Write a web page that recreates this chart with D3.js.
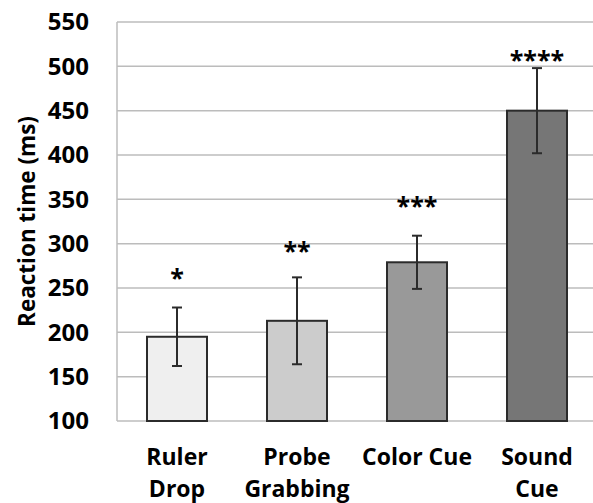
<!DOCTYPE html>
<html>
<head>
<meta charset="utf-8">
<script src="https://cdn.jsdelivr.net/npm/d3@7"></script>
<style>
  body { margin: 0; background: #fff; }
  svg { display: block; font-family: "Open Sans", sans-serif; font-weight: 700; }
</style>
</head>
<body>
<svg id="chart" width="593" height="503"></svg>
<script>
// data
const categories = [["Ruler", "Drop"], ["Probe", "Grabbing"], ["Color Cue"], ["Sound", "Cue"]];
const means = [195, 213, 279, 450];
const errors = [33, 49, 30, 48];
const stars = ["*", "**", "***", "****"];
const starAt = [272, 303, 353, 518];
const fills = ["#efefef", "#cccccc", "#999999", "#767676"];
const yTicks = [100, 150, 200, 250, 300, 350, 400, 450, 500, 550];

const WIDTH = 593, HEIGHT = 503;
const plotLeft = 117, plotRight = 597, plotTop = 22, plotBottom = 421;

const svg = d3.select("#chart");

const x = d3.scaleBand()
  .domain(d3.range(categories.length))
  .range([plotLeft, plotRight])
  .paddingInner(0.5)
  .paddingOuter(0.25);

const y = d3.scaleLinear().domain([100, 550]).range([plotBottom, plotTop]);

// gridlines
svg.append("g")
  .selectAll("line")
  .data(yTicks)
  .join("line")
  .attr("x1", plotLeft)
  .attr("x2", WIDTH)
  .attr("y1", d => y(d))
  .attr("y2", d => y(d))
  .attr("stroke", "#bcbcbc")
  .attr("stroke-width", 1.5);

// left axis line
svg.append("line")
  .attr("x1", plotLeft).attr("x2", plotLeft)
  .attr("y1", y(550)).attr("y2", y(100))
  .attr("stroke", "#bcbcbc")
  .attr("stroke-width", 1.5);

// y tick labels
const yAxis = svg.append("g")
  .attr("transform", `translate(${plotLeft},0)`)
  .call(d3.axisLeft(y).tickValues(yTicks).tickSize(0).tickPadding(28));
yAxis.select(".domain").remove();
yAxis.selectAll("text")
  .attr("font-family", "Open Sans")
  .attr("font-weight", 700)
  .attr("font-size", 24)
  .attr("fill", "#000");

// y title
svg.append("text")
  .attr("transform", `translate(35,${(plotTop + plotBottom) / 2}) rotate(-90)`)
  .attr("text-anchor", "middle")
  .attr("font-size", 22.5)
  .attr("fill", "#000")
  .text("Reaction time (ms)");

// bars
svg.append("g")
  .selectAll("rect")
  .data(means)
  .join("rect")
  .attr("x", (d, i) => x(i))
  .attr("width", x.bandwidth())
  .attr("y", d => y(d))
  .attr("height", d => y(100) - y(d))
  .attr("fill", (d, i) => fills[i])
  .attr("stroke", "#2b2b2b")
  .attr("stroke-width", 2);

// error bars
const eb = svg.append("g")
  .attr("stroke", "#2b2b2b")
  .attr("stroke-width", 2)
  .selectAll("g")
  .data(means)
  .join("g")
  .attr("transform", (d, i) => `translate(${x(i) + x.bandwidth() / 2},0)`);
eb.append("line")
  .attr("y1", (d, i) => y(d + errors[i]))
  .attr("y2", (d, i) => y(d - errors[i]));
eb.append("line")
  .attr("x1", -5).attr("x2", 5)
  .attr("y1", (d, i) => y(d + errors[i]))
  .attr("y2", (d, i) => y(d + errors[i]));
eb.append("line")
  .attr("x1", -5).attr("x2", 5)
  .attr("y1", (d, i) => y(d - errors[i]))
  .attr("y2", (d, i) => y(d - errors[i]));

// significance stars
svg.append("g")
  .selectAll("text")
  .data(stars)
  .join("text")
  .attr("x", (d, i) => x(i) + x.bandwidth() / 2)
  .attr("y", (d, i) => y(starAt[i]))
  .attr("dy", "0.75em")
  .attr("text-anchor", "middle")
  .attr("font-size", 25)
  .attr("font-weight", 700)
  .attr("fill", "#000")
  .text(d => d);

// category labels
const cat = svg.append("g")
  .selectAll("text")
  .data(categories)
  .join("text")
  .attr("x", (d, i) => x(i) + x.bandwidth() / 2)
  .attr("y", 465)
  .attr("text-anchor", "middle")
  .attr("font-size", 23)
  .attr("fill", "#000");
cat.selectAll("tspan")
  .data(d => d)
  .join("tspan")
  .attr("x", function () { return d3.select(this.parentNode).attr("x"); })
  .attr("dy", (d, j) => j === 0 ? 0 : 32)
  .text(d => d);
</script>
</body>
</html>
